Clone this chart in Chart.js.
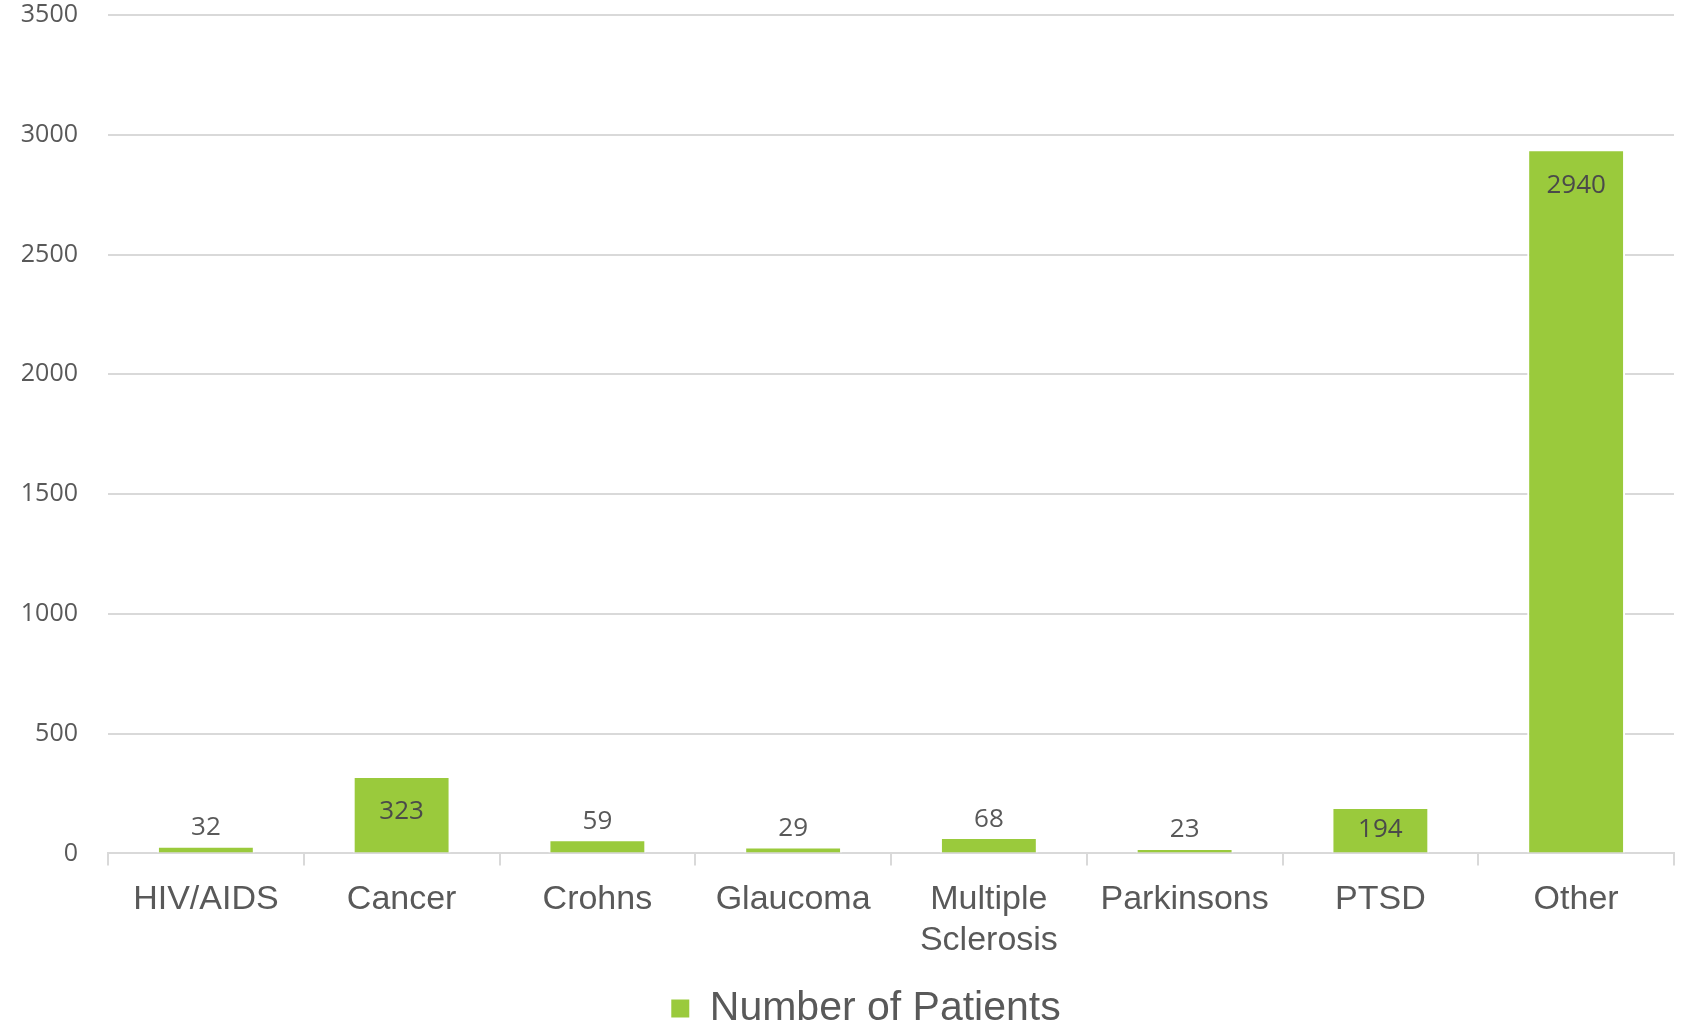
<!DOCTYPE html>
<html>
<head>
<meta charset="utf-8">
<script src="https://cdn.jsdelivr.net/npm/chart.js@4/dist/chart.umd.min.js"></script>
<style>
  body { margin: 0; background: #fff; }
  #wrap { width: 1683px; height: 1024px; }
</style>
</head>
<body>
<div id="wrap"><canvas id="bar-chart" width="1683" height="1024"></canvas></div>
<script>
const categories = ["HIV/AIDS", "Cancer", "Crohns", "Glaucoma", ["Multiple", "Sclerosis"], "Parkinsons", "PTSD", "Other"];
const patients = [32, 323, 59, 29, 68, 23, 194, 2940];
const yTicks = [0, 500, 1000, 1500, 2000, 2500, 3000, 3500];

const GREEN = "#9ACA3C";
const TEXT = "#595959";
const GRID = "#D9D9D9";

// value labels: inside the top of tall bars, above the short ones
const valueLabels = {
  id: "valueLabels",
  afterDatasetsDraw(chart) {
    const ctx = chart.ctx;
    const meta = chart.getDatasetMeta(0);
    ctx.save();
    ctx.font = "26px 'Open Sans'";
    ctx.textAlign = "center";
    ctx.textBaseline = "middle";
    meta.data.forEach((bar, i) => {
      const top = bar.y;
      const h = bar.base - bar.y;
      let cy;
      if (h >= 40) {
        cy = Math.min(top + 36, (top + bar.base) / 2);
        ctx.fillStyle = "#4a4a4a";
      } else {
        cy = top - 18;
        ctx.fillStyle = TEXT;
      }
      ctx.fillText(String(chart.data.datasets[0].data[i]), bar.x, cy);
    });
    ctx.restore();
  }
};

// nudge the legend a bit to the right, like the original
const legendShift = {
  id: "legendShift",
  afterLayout(chart) {
    if (chart.legend) {
      chart.legend.left += 29;
      chart.legend.right += 29;
    }
  }
};

const config = {
  type: "bar",
  data: {
    labels: categories,
    datasets: [
      {
        label: "Number of Patients",
        data: patients,
        backgroundColor: GREEN,
        borderColor: "#ffffff",
        borderWidth: 2,
        borderSkipped: "start",
        categoryPercentage: 1,
        barPercentage: 0.5,
      },
    ],
  },
  options: {
    responsive: false,
    animation: false,
    layout: { padding: { top: 0, right: 9, bottom: -15, left: 0 } },
    plugins: {
      legend: {
        display: true,
        position: "bottom",
        labels: {
          color: TEXT,
          font: { family: "'Liberation Sans'", size: 41 },
          boxWidth: 18,
          boxHeight: 18,
          padding: 0,
          generateLabels: (chart) => [{
            text: "Number of Patients",
            fillStyle: GREEN,
            strokeStyle: GREEN,
            lineWidth: 0,
            hidden: false,
            datasetIndex: 0,
            fontColor: TEXT,
          }],
        },
      },
      tooltip: { enabled: false },
    },
    scales: {
      x: {
        afterFit: (scale) => {
          scale.height += 13;
        },
        grid: {
          display: true,
          offset: true,
          drawOnChartArea: false,
          drawTicks: true,
          tickLength: 12,
          color: GRID,
          lineWidth: 2,
        },
        border: { display: true, color: GRID, width: 2 },
        ticks: {
          color: TEXT,
          padding: 14,
          maxRotation: 0,
          autoSkip: false,
          font: { family: "'Liberation Sans'", size: 34, lineHeight: 1.2 },
        },
      },
      y: {
        min: 0,
        max: 3500,
        afterBuildTicks: (scale) => {
          scale.ticks = yTicks.map((v) => ({ value: v }));
        },
        afterFit: (scale) => {
          scale.width = 108;
          scale.paddingTop = 15;
          scale.paddingBottom = 0;
        },
        grid: { color: GRID, lineWidth: 2, drawTicks: false },
        border: { display: false },
        ticks: {
          color: TEXT,
          padding: 30,
          font: { family: "'Open Sans'", size: 25 },
          callback: (v) => String(v),
        },
      },
    },
  },
  plugins: [valueLabels, legendShift],
};

const ctx = document.getElementById("bar-chart").getContext("2d");
new Chart(ctx, config);
</script>
</body>
</html>
